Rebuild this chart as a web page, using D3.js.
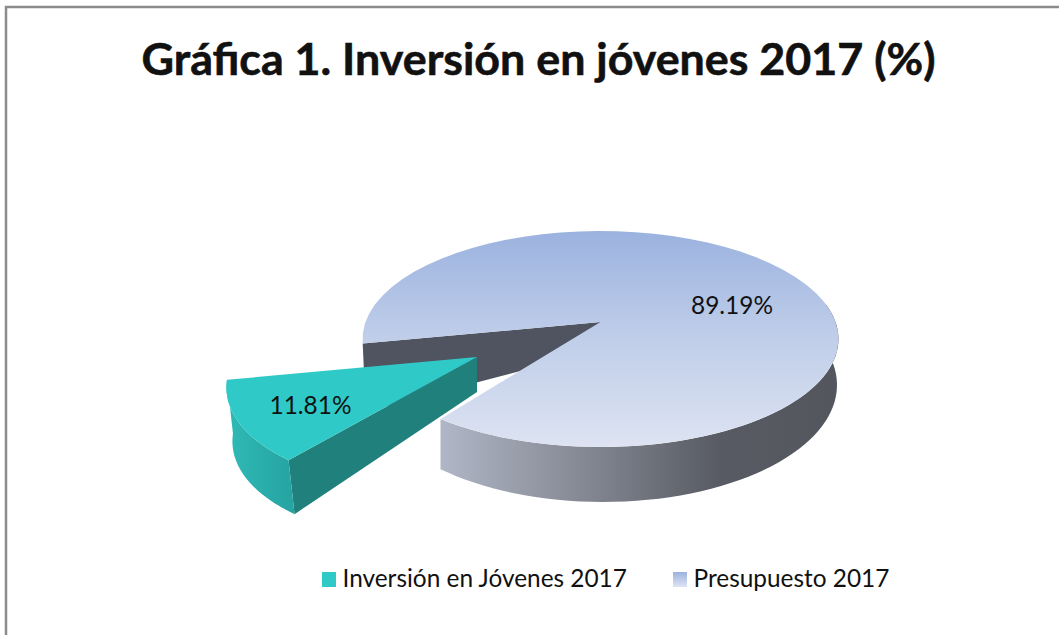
<!DOCTYPE html>
<html lang="es">
<head>
<meta charset="utf-8">
<title>Gráfica 1</title>
<script src="https://d3js.org/d3.v7.min.js"></script>
<style>
html, body { margin: 0; padding: 0; background: #fff; overflow: hidden; }
svg { display: block; }
text { font-family: Lato, "Open Sans", sans-serif; fill: #111; }
</style>
</head>
<body>
<div id="chart"></div>
<script>
// values (they really do add up to 101)
var categories = ["Inversión en Jóvenes 2017", "Presupuesto 2017"];
var values = [11.81, 89.19];
var title = "Gráfica 1. Inversión en jóvenes 2017 (%)";

var w = 1059, h = 635;
var deg = Math.PI / 180;

var svg = d3.select("#chart").append("svg").attr("width", w).attr("height", h);

// frame, only left and top are inside the crop
svg.append("rect").attr("x", 6).attr("y", 7).attr("width", w + 20).attr("height", h + 20)
  .attr("fill", "#fff").attr("stroke", "#8c8c8c").attr("stroke-width", 2.5);

var defs = svg.append("defs");
function gradient(id, x1, y1, x2, y2, stops) {
  var g = defs.append("linearGradient").attr("id", id).attr("gradientUnits", "userSpaceOnUse")
    .attr("x1", x1).attr("y1", y1).attr("x2", x2).attr("y2", y2);
  stops.forEach(function(s) {
    g.append("stop").attr("offset", s[0]).attr("stop-color", s[1]);
  });
}
gradient("topFace", 0, 231, 0, 447, [[0, "#9bb2df"], [0.5, "#c0cee9"], [1, "#dde3f2"]]);
gradient("sideWall", 439, 0, 838, 0, [[0, "#b1b7c7"], [0.35, "#868a95"], [0.7, "#585b63"], [1, "#53565d"]]);
gradient("tealWall", 227, 0, 295, 0, [[0, "#2fbab6"], [1, "#25a3a1"]]);
gradient("legendBlue", 0, 572, 0, 587, [[0, "#9bb2df"], [1, "#dfe5f3"]]);

// a disc seen in perspective: the centre of the pie is not the centre of the ellipse,
// a is how far it moves (-1..1), shear leans the slice that was pulled out
var mainTop = {cx: 600.5, cy: 339, rx: 238, ry: 108, a: -0.157, shear: 0};
var mainBottom = {cx: 603, cy: 385, rx: 234, ry: 117, a: -0.2, shear: 0};
var sliceTop = {cx: 477, cy: 375, rx: 245, ry: 115, a: -0.157, shear: -0.23};
var sliceDrop = [6, 54], sliceApexDrop = 35;
var innerApexDrop = 28, innerRimDrop = [3, 68];

function rim(d, angle) {
  var u = Math.sin(angle), v = -Math.cos(angle);
  var k = 1 + d.a * v;
  var up = u * Math.sqrt(1 - d.a * d.a) / k;
  var vp = (v + d.a) / k;
  return [d.cx + d.rx * up + d.shear * d.ry * (vp - d.a), d.cy + d.ry * vp];
}
function apex(d) { return [d.cx, d.cy + d.ry * d.a]; }
function arcPoints(d, a0, a1) {
  return d3.range(0, 61).map(function(i) { return rim(d, a0 + (a1 - a0) * i / 60); });
}
function drop(p, o) { return [p[0] + o[0], p[1] + o[1]]; }

var line = d3.line();
function face(points, fill) {
  svg.append("path").attr("d", line(points) + "Z").attr("fill", fill);
}

var slices = d3.pie().sort(null).startAngle(216.5 * deg).endAngle((216.5 + 360) * deg)(values);
var small = slices[0], big = slices[1];

// inner wall of the gap
face([
  rim(mainTop, big.startAngle), apex(mainTop), drop(apex(mainTop), [0, innerApexDrop]),
  drop(rim(mainTop, big.startAngle), innerRimDrop)
], "#4f5460");

// outer wall of the big slice, from its right edge round to the front corner
var wallEnd = big.endAngle - 2 * Math.PI;
face(arcPoints(mainTop, 80 * deg, wallEnd).concat(arcPoints(mainBottom, 80 * deg, wallEnd).reverse()), "url(#sideWall)");

// top of the big slice
face([apex(mainTop)].concat(arcPoints(mainTop, big.startAngle, big.endAngle)), "url(#topFace)");

// pulled out slice
var corner = rim(sliceTop, small.startAngle);
face([apex(sliceTop), corner, drop(corner, sliceDrop), drop(apex(sliceTop), [0, sliceApexDrop])], "#20807c");
var smallArc = arcPoints(sliceTop, small.startAngle, small.endAngle);
face(smallArc.concat(smallArc.map(function(p) { return drop(p, sliceDrop); }).reverse()), "url(#tealWall)");
face([apex(sliceTop)].concat(smallArc), "#2fcac7");

// title and labels
svg.append("text").attr("x", 538.5).attr("y", 75).attr("text-anchor", "middle")
  .attr("font-size", 44.8).attr("font-weight", 700)
  .attr("stroke", "#111").attr("stroke-width", 0.6).text(title);

var fmt = function(d) { return d.toFixed(2) + "%"; };
svg.append("text").attr("x", 310.5).attr("y", 414).attr("text-anchor", "middle")
  .attr("font-size", 24.4).text(fmt(values[0]));
svg.append("text").attr("x", 732).attr("y", 314).attr("text-anchor", "middle")
  .attr("font-size", 24.4).text(fmt(values[1]));

// legend
var legendX = d3.scaleOrdinal().domain(categories).range([322, 673]);
var legendFill = d3.scaleOrdinal().domain(categories).range(["#2fcac7", "url(#legendBlue)"]);
var legend = svg.selectAll(".legend").data(categories).enter().append("g").attr("class", "legend");
legend.append("rect")
  .attr("x", function(d) { return legendX(d); }).attr("y", 572)
  .attr("width", 14).attr("height", 15)
  .attr("fill", function(d) { return legendFill(d); });
legend.append("text")
  .attr("x", function(d) { return legendX(d) + 20.5; }).attr("y", 587)
  .attr("font-size", 24.4).text(function(d) { return d; });
</script>
</body>
</html>
